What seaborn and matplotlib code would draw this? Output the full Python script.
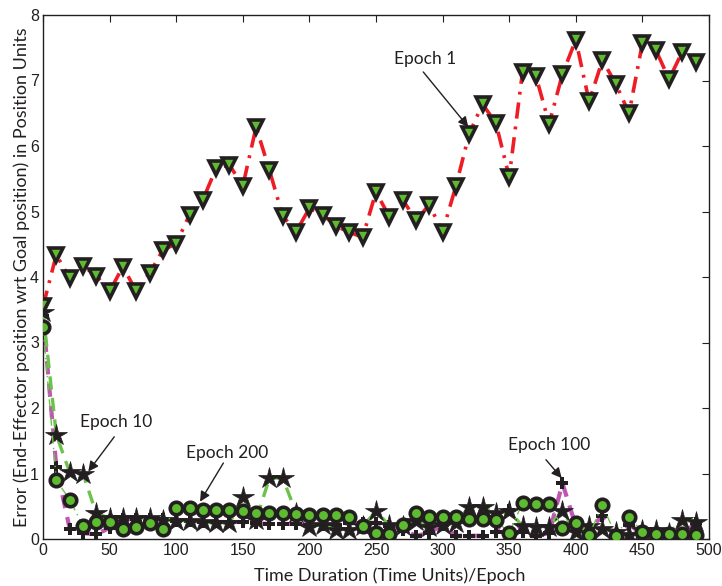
import numpy as np
import pandas as pd
import matplotlib
matplotlib.use("Agg")
import matplotlib.pyplot as plt
import seaborn as sns

# ---------------- data ----------------
time = list(range(0, 500, 10))

epoch1 = [3.55, 4.34, 3.98, 4.17, 4.02, 3.78, 4.16, 3.78, 4.06, 4.41,
          4.51, 4.95, 5.18, 5.66, 5.71, 5.39, 6.29, 5.63, 4.93, 4.69,
          5.05, 4.95, 4.78, 4.68, 4.61, 5.30, 4.92, 5.18, 4.87, 5.10,
          4.69, 5.39, 6.19, 6.64, 6.35, 5.53, 7.13, 7.07, 6.34, 7.10,
          7.62, 6.68, 7.31, 6.95, 6.50, 7.57, 7.47, 7.02, 7.44, 7.29]

epoch10 = [3.47, 1.59, 1.02, 1.00, 0.39, 0.32, 0.32, 0.32, 0.32, 0.29,
           0.28, 0.28, 0.26, 0.24, 0.24, 0.64, 0.29, 0.93, 0.93, 0.40,
           0.19, 0.22, 0.13, 0.13, 0.20, 0.42, 0.21, 0.20, 0.28, 0.18,
           0.21, 0.25, 0.49, 0.49, 0.39, 0.42, 0.20, 0.19, 0.19, 0.42,
           0.10, 0.20, 0.16, 0.10, 0.06, 0.14, 0.14, 0.09, 0.29, 0.26]

epoch200 = [3.23, 0.90, 0.60, 0.20, 0.26, 0.26, 0.15, 0.19, 0.24, 0.16,
            0.47, 0.47, 0.45, 0.45, 0.44, 0.43, 0.40, 0.39, 0.39, 0.38,
            0.37, 0.37, 0.36, 0.34, 0.20, 0.09, 0.08, 0.21, 0.39, 0.33,
            0.33, 0.33, 0.31, 0.31, 0.29, 0.09, 0.55, 0.54, 0.54, 0.17,
            0.25, 0.06, 0.52, 0.05, 0.33, 0.11, 0.08, 0.08, 0.07, 0.06]

epoch100 = [3.40, 1.10, 0.16, 0.09, 0.07, 0.17, 0.30, 0.30, 0.30, 0.30,
            0.28, 0.28, 0.26, 0.26, 0.26, 0.26, 0.24, 0.23, 0.23, 0.23,
            0.22, 0.22, 0.22, 0.24, 0.24, 0.25, 0.20, 0.14, 0.05, 0.09,
            0.22, 0.05, 0.05, 0.05, 0.10, 0.45, 0.10, 0.05, 0.09, 0.85,
            0.20, 0.15, 0.35, 0.05, 0.22, 0.08, 0.07, 0.07, 0.06, 0.25]

x_ticks = [0, 50, 100, 150, 200, 250, 300, 350, 400, 450, 500]
y_ticks = [0, 1, 2, 3, 4, 5, 6, 7, 8]

x_label = "Time Duration (Time Units)/Epoch"
y_label = "Error (End-Effector position wrt Goal position) in Position Units"

# annotations: label, text position, arrow tail, arrow tip (data coords)
annotations = [
    ("Epoch 1", (286.8, 7.33), (285.5, 7.13), (319.3, 6.29)),
    ("Epoch 10", (55.2, 1.79), (53.5, 1.56), (34.0, 1.03)),
    ("Epoch 200", (137.9, 1.31), (135.4, 1.16), (117.9, 0.57)),
    ("Epoch 100", (379.9, 1.43), (377.6, 1.21), (389.4, 0.93)),
]

df = pd.DataFrame({"time": time, "e1": epoch1, "e10": epoch10,
                   "e200": epoch200, "e100": epoch100})

# ---------------- style ----------------
sns.set_style("white")
plt.rcParams["font.family"] = ["Liberation Sans", "DejaVu Sans"]

fig = plt.figure(figsize=(7.22, 5.86), dpi=100)
ax = fig.add_axes([43 / 722, 1 - 539 / 586, (709 - 43) / 722, (539 - 15) / 586])

RED = "#ee1c25"
GREEN_FACE = "#5dbb2f"
GREEN_LINE = "#6cc24a"
MAGENTA = "#c056b2"
BLACK = "#231f20"

# Epoch 100 : plus markers, magenta dashed
sns.lineplot(data=df, x="time", y="e100", ax=ax, color=MAGENTA, lw=3.0,
             linestyle=(0, (3.2, 2.2)), marker="P", markersize=8.5,
             markerfacecolor=BLACK, markeredgecolor=BLACK, markeredgewidth=0,
             zorder=2)
# Epoch 10 : stars, green dashed
sns.lineplot(data=df, x="time", y="e10", ax=ax, color=GREEN_LINE, lw=2.4,
             linestyle=(0, (4, 2.5)), marker="*", markersize=16,
             markerfacecolor=BLACK, markeredgecolor=BLACK, markeredgewidth=0.5,
             zorder=3)
# Epoch 200 : circles, thin green dash-dot
sns.lineplot(data=df, x="time", y="e200", ax=ax, color=GREEN_LINE, lw=1.0,
             linestyle=(0, (6, 3, 1, 3)), marker="o", markersize=9,
             markerfacecolor=GREEN_FACE, markeredgecolor=BLACK, markeredgewidth=2.6,
             zorder=4)
# Epoch 1 : triangles, red dash-dot
sns.lineplot(data=df, x="time", y="e1", ax=ax, color=RED, lw=2.6,
             linestyle=(0, (4.5, 2.2, 0.8, 2.2)), marker="v", markersize=10.5,
             markerfacecolor=GREEN_FACE, markeredgecolor=BLACK, markeredgewidth=2.6,
             zorder=5)

for label, txt, tail, tip in annotations:
    ax.annotate("", xy=tip, xytext=tail,
                arrowprops=dict(arrowstyle="-|>", color=BLACK, lw=1.0,
                                mutation_scale=15, shrinkA=0, shrinkB=0),
                zorder=6)
    ax.text(txt[0], txt[1], label, ha="center", va="center", fontsize=12.5,
            color=BLACK, family=["Lato", "DejaVu Sans"], zorder=6)

ax.set_xlim(0, 500)
ax.set_ylim(0, 8)
ax.set_xticks(x_ticks)
ax.set_yticks(y_ticks)
ax.set_xticklabels([str(v) for v in x_ticks])
ax.set_yticklabels([str(v) for v in y_ticks])
ax.tick_params(direction="in", length=5, width=0.8, top=True, right=True,
               labelsize=11.5, colors=BLACK, pad=3)
for s in ax.spines.values():
    s.set_visible(True)
    s.set_color(BLACK)
    s.set_linewidth(1.0)

ax.set_xlabel(x_label, fontsize=13, family=["Lato", "DejaVu Sans"], color=BLACK)
ax.set_ylabel(y_label, fontsize=13, family=["Lato", "DejaVu Sans"], color=BLACK)
ax.xaxis.set_label_coords((390 - 43) / 666, -(576 - 539) / 524)
ax.yaxis.set_label_coords(-(43 - 22) / 666, 0.5)
ax.xaxis.label.set_va("center")
ax.yaxis.label.set_va("center")
ax.legend_ = None

fig.savefig("out.png", dpi=100)
